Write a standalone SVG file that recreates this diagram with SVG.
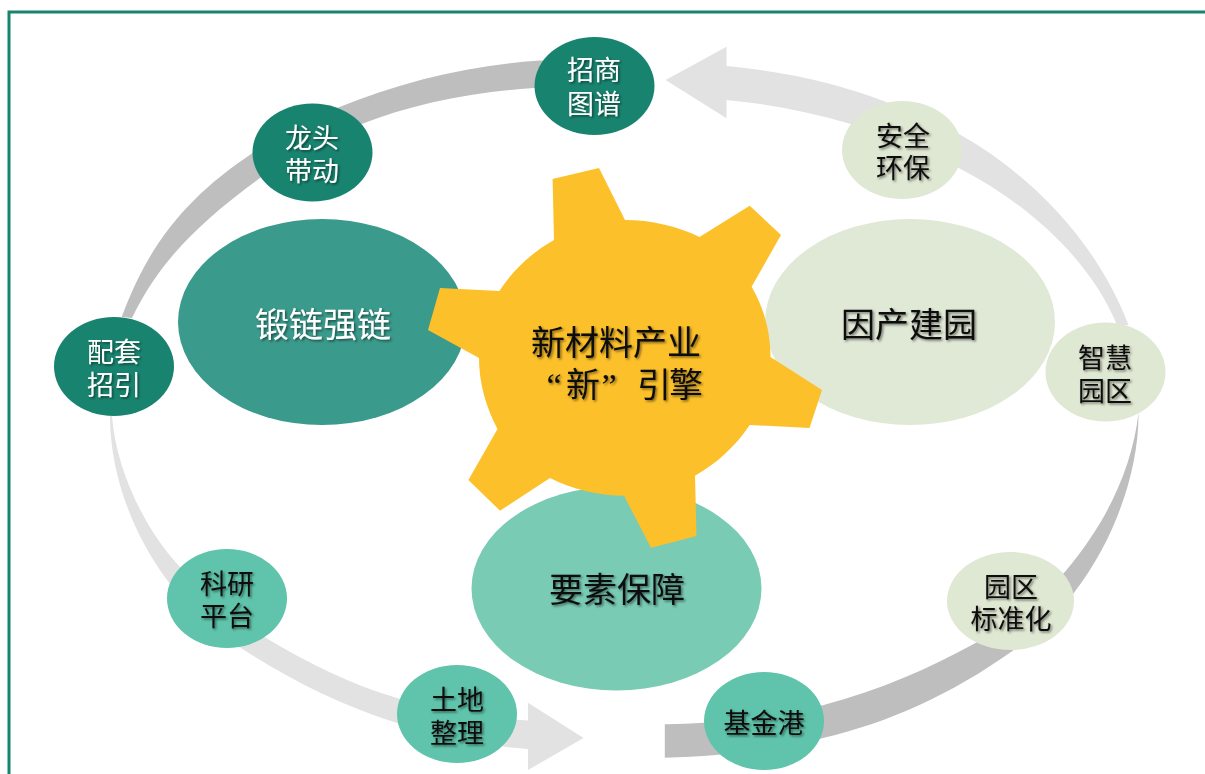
<svg xmlns="http://www.w3.org/2000/svg" width="1205" height="774" viewBox="0 0 1205 774">
<defs>
<filter id="ts" x="-20%" y="-20%" width="140%" height="140%"><feDropShadow dx="1.5" dy="1.5" stdDeviation="1.2" flood-color="#000" flood-opacity="0.5"/></filter>
<filter id="soft" x="-5%" y="-5%" width="110%" height="110%"><feGaussianBlur stdDeviation="0.5"/></filter>
</defs>
<style>
text{font-family:"Liberation Sans","Noto Sans CJK SC",sans-serif;text-anchor:middle;filter:url(#ts);font-weight:400}
.q{font-family:"Liberation Serif","Noto Sans CJK SC",serif}
.s{font-size:27px}
.b{font-size:34px}
.w{fill:#fff}
.k{fill:#0d0d0d}
.dk{fill:#18846f}
.md{fill:#5fc4ab}
.lt{fill:#dfe8d2}
.band1{fill:#bebebe}
.band2{fill:#e2e2e2}
</style>
<rect width="1205" height="774" fill="#fff"/>
<path d="M9 774V12H1205" fill="none" stroke="#18846f" stroke-width="3"/>
<g id="connectors" filter="url(#soft)">
<path class="band1" d="M121.700 317C150 240 190 195 252.600 153C280 135 310 120 337 108C400 82 470 65 540 60.500L600 60V88L534.600 88C470 92 410 105 361.600 124C325 138 290 155 260 178C200 222 160 260 132 318Z"/>
<path class="band2" d="M665.600 80L726.500 46.700V66C790 72 840 84 885.500 101.700C915 113 940 123 960.700 135C1040 180 1100 250 1128.500 325L1117 325C1090 260 1030 205 958.800 168C930 152 890 135 850.800 124C810 112 770 104 726.500 100V118.300Z"/>
<path class="band1" d="M664.800 724.300C720 723 770 718 823.800 705C880 690 930 668 976 642.700C1010 622 1040 600 1065 571.700C1105 525 1132 470 1138.500 413C1139 470 1115 540 1073.800 593C1050 620 1035 632 1012.800 650.700C950 695 890 722 823 738C780 750 720 756 664.800 757.700Z"/>
<path class="band2" d="M110 416L112 416C116 470 145 530 180 567C205 595 235 618 266 638C310 664 350 684 397 698C435 710 475 717 528 720.500V702.700L583.600 738L528 770V749C480 746 440 735 397 723C340 705 290 680 241 648C205 622 185 605 167 580C130 530 110 470 110 416Z"/>
</g>
<g id="node-duanlian"><ellipse cx="322" cy="322" rx="144" ry="103" fill="#3a9a8b"/><text class="b w" x="323" y="337">锻链强链</text></g>
<g id="node-yinchan"><ellipse cx="910" cy="322" rx="145" ry="103" fill="#e0e9d6"/><text class="b k" x="909" y="337">因产建园</text></g>
<g id="node-yaosu"><ellipse cx="616.500" cy="588.500" rx="145" ry="102" fill="#79cbb4"/><text class="b k" x="617" y="602">要素保障</text></g>
<g id="node-gear">
<path fill="#fcc02a" d="M554 240L552.600 179L599 168L625 220C651 220 677 226 699.500 237L749.700 205.700L781 235L751.600 286.700C764 308 770.500 332 770.500 357L822 390L809.500 428L749.700 425C735 447 717 463 695 475.700L696.500 536L651 547.700L624 495.700C598 495.700 572 489 550 478L500 510.700L468.400 480L497.500 429C486 407 479 383 479 358L428 330L440 288L499.400 291C512 271 531 253 554 240Z"/>
<text class="b k" x="616" y="355">新材料产业<tspan class="q" x="554 583 609 654 686" y="397">“新”引擎</tspan></text>
</g>
<g id="node-zhaoshang"><ellipse cx="594.500" cy="86" rx="60" ry="49" class="dk"/><text class="s w" x="594" y="80">招商<tspan x="594" dy="34">图谱</tspan></text></g>
<g id="node-longtou"><ellipse cx="312.500" cy="152.500" rx="60" ry="49" class="dk"/><text class="s w" x="312" y="148">龙头<tspan x="312" dy="33">带动</tspan></text></g>
<g id="node-peitao"><ellipse cx="114" cy="366.500" rx="60" ry="49.500" class="dk"/><text class="s w" x="114" y="362">配套<tspan x="114" dy="33">招引</tspan></text></g>
<g id="node-anquan"><ellipse cx="902" cy="150" rx="60" ry="49" class="lt"/><text class="s k" x="903" y="146">安全<tspan x="903" dy="32">环保</tspan></text></g>
<g id="node-zhihui"><ellipse cx="1105.500" cy="372" rx="60" ry="49.500" class="lt"/><text class="s k" x="1105" y="368">智慧<tspan x="1105" dy="33">园区</tspan></text></g>
<g id="node-biaozhun"><ellipse cx="1010.500" cy="601" rx="63.500" ry="49" class="lt"/><text class="s k" x="1011" y="597">园区<tspan x="1011" dy="32">标准化</tspan></text></g>
<g id="node-jijin"><ellipse cx="764" cy="721" rx="60" ry="49" class="md"/><text class="s k" x="764" y="733">基金港</text></g>
<g id="node-tudi"><ellipse cx="457" cy="714" rx="60" ry="49" class="md"/><text class="s k" x="457" y="710">土地<tspan x="457" dy="33">整理</tspan></text></g>
<g id="node-keyan"><ellipse cx="227" cy="598.500" rx="60" ry="49.500" class="md"/><text class="s k" x="227" y="594">科研<tspan x="227" dy="32">平台</tspan></text></g>
</svg>
